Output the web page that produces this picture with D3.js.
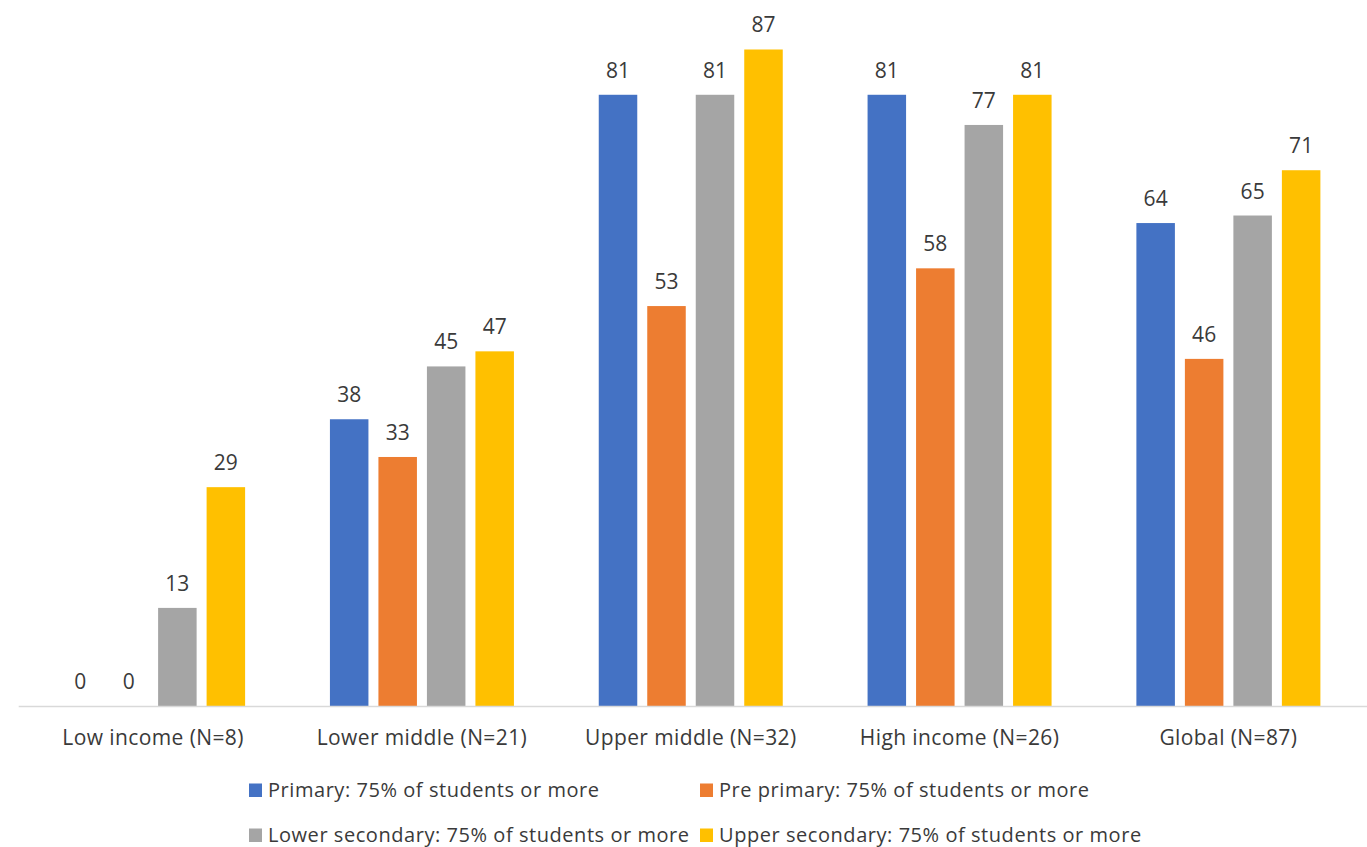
<!DOCTYPE html>
<html>
<head>
<meta charset="utf-8">
<script src="https://cdn.jsdelivr.net/npm/d3@7"></script>
<style>
  html, body { margin: 0; padding: 0; background: #fff; }
  svg { display: block; font-family: "Open Sans", Lato, sans-serif; }
</style>
</head>
<body>
<svg id="chart" width="1367" height="847"></svg>
<script>
// Income groups along the x axis
const categories = ["Low income (N=8)", "Lower middle (N=21)", "Upper middle (N=32)", "High income (N=26)", "Global (N=87)"];

// Share (%) of countries per education level
const primary        = [0, 38, 81, 81, 64];
const prePrimary     = [0, 33, 53, 58, 46];
const lowerSecondary = [13, 45, 81, 77, 65];
const upperSecondary = [29, 47, 87, 81, 71];

const seriesNames = [
  "Primary: 75% of students or more",
  "Pre primary: 75% of students or more",
  "Lower secondary: 75% of students or more",
  "Upper secondary: 75% of students or more"
];
const seriesColors = ["#4472C4", "#ED7D31", "#A5A5A5", "#FFC000"];
const seriesValues = [primary, prePrimary, lowerSecondary, upperSecondary];

const svg = d3.select("#chart");
const textColor = "#3a3a3a";
const fontFamily = "'Open Sans', Lato, sans-serif";

const baseY = 706;
const groupWidth = 184;
const x0 = d3.scaleBand().domain(categories).range([18.7, 1362.8]).paddingInner(0).paddingOuter(0);
const x1 = d3.scaleBand().domain(d3.range(4)).range([0, groupWidth]).paddingInner(0.206).paddingOuter(0);
const y = d3.scaleLinear().domain([0, 100]).range([baseY, baseY - 754.6]);

const groupOffset = (x0.bandwidth() - groupWidth) / 2;

const rows = categories.map((c, i) => ({ cat: c, vals: seriesValues.map((s, k) => ({ k, v: s[i] })) }));

const groups = svg.append("g").selectAll("g").data(rows).join("g")
  .attr("transform", d => `translate(${x0(d.cat) + groupOffset},0)`);

groups.selectAll("rect").data(d => d.vals.filter(o => o.v > 0)).join("rect")
  .attr("x", d => x1(d.k))
  .attr("width", x1.bandwidth())
  .attr("y", d => y(d.v))
  .attr("height", d => y(0) - y(d.v))
  .attr("fill", d => seriesColors[d.k]);

groups.selectAll("text").data(d => d.vals).join("text")
  .attr("x", d => x1(d.k) + x1.bandwidth() / 2)
  .attr("y", d => y(d.v) - 17)
  .attr("text-anchor", "middle")
  .attr("font-size", 21)
  .attr("fill", textColor)
  .text(d => d.v);

// Category axis
const xAxis = svg.append("g").attr("transform", `translate(0,${baseY})`)
  .call(d3.axisBottom(x0).tickSize(0).tickPadding(0));
xAxis.select(".domain").attr("stroke", "#D9D9D9").attr("stroke-width", 1.3)
  .attr("d", `M18.7,0.5H1367`);
xAxis.selectAll(".tick text")
  .attr("y", 39).attr("dy", 0)
  .attr("font-size", 21)
  .attr("letter-spacing", 0.4)
  .attr("font-family", fontFamily)
  .attr("fill", textColor);

// Legend in two columns, two rows
const legendPos = [[249, 797], [700, 797], [249, 842], [700, 842]];
const legend = svg.append("g").selectAll("g").data(seriesNames).join("g")
  .attr("transform", (d, i) => `translate(${legendPos[i][0]},${legendPos[i][1]})`);
legend.append("rect").attr("x", 0).attr("y", -13.5).attr("width", 13).attr("height", 13.5)
  .attr("fill", (d, i) => seriesColors[i]);
legend.append("text").attr("x", 19).attr("y", 0)
  .attr("font-size", 20).attr("letter-spacing", 0.55)
  .attr("fill", textColor).text(d => d);
</script>
</body>
</html>
